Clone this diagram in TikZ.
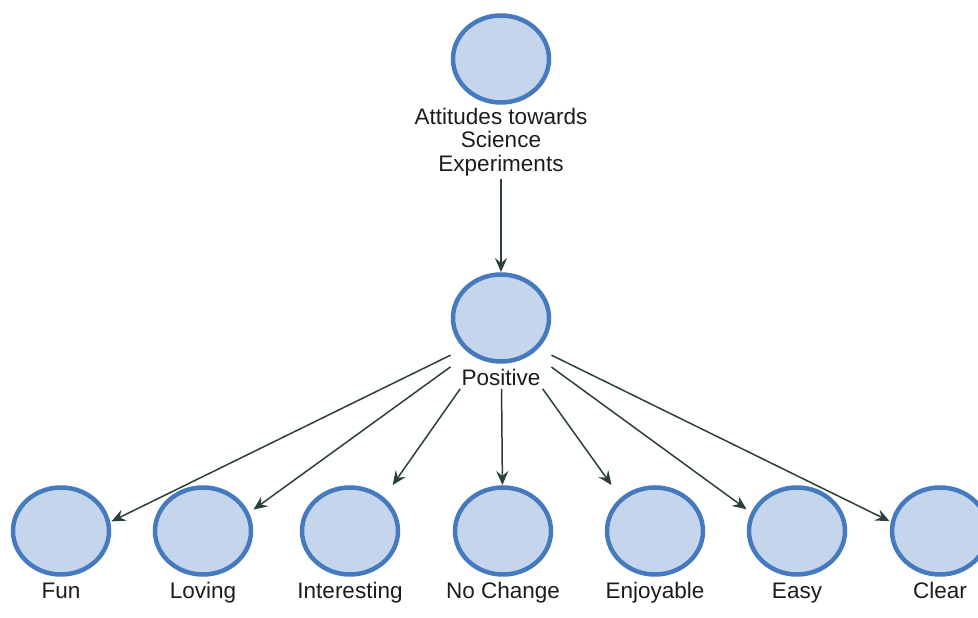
\documentclass[tikz,border=0pt]{standalone}
\usepackage{fontspec}
\setmainfont{Liberation Sans}
\usetikzlibrary{arrows.meta, shapes.geometric, positioning, fit}
\usepackage{xcolor}

\definecolor{ringblue}{RGB}{70,122,190}
\definecolor{discfill}{RGB}{197,214,236}
\definecolor{linkgrey}{RGB}{42,64,60}
\definecolor{captiongrey}{RGB}{28,28,28}

\tikzset{
	disc/.style={ellipse, draw=ringblue, fill=discfill, line width=4.5pt,
		minimum width=96pt, minimum height=87pt, inner sep=0pt},
	caption/.style={text=captiongrey, font=\fontsize{22.5}{23.5}\selectfont,
		align=center, inner sep=3pt},
	leafcaption/.style={caption, text height=16.5pt, text depth=5pt},
	group/.style={inner sep=0pt},
	link/.style={draw=linkgrey, line width=1.5pt,
		-{Stealth[length=14pt, width=12pt, inset=5pt]}}
}

\begin{document}
\begin{tikzpicture}[x=1pt, y=1pt]
	\useasboundingbox (0,0) rectangle (978,618);
	\node [disc] (attitudes) at (501,559) {};
	\node [caption, below=0pt of attitudes] (attitudeslbl) {Attitudes towards\\Science\\Experiments};
	\node [disc] (positive) at (501,300) {};
	\node [caption, below=2pt of positive] (positivelbl) {Positive};
	\node [disc] (fun) at (61,87) {};
	\node [leafcaption, below=2pt of fun] (funlbl) {Fun};
	\node [disc] (loving) at (203,87) {};
	\node [leafcaption, below=2pt of loving] (lovinglbl) {Loving};
	\node [disc] (interesting) at (350,87) {};
	\node [leafcaption, below=2pt of interesting] (interestinglbl) {Interesting};
	\node [disc] (nochange) at (503,87) {};
	\node [leafcaption, below=2pt of nochange] (nochangelbl) {No Change};
	\node [disc] (enjoyable) at (655,87) {};
	\node [leafcaption, below=2pt of enjoyable] (enjoyablelbl) {Enjoyable};
	\node [disc] (easy) at (797,87) {};
	\node [leafcaption, below=2pt of easy] (easylbl) {Easy};
	\node [disc] (clear) at (940,87) {};
	\node [leafcaption, below=2pt of clear] (clearlbl) {Clear};
	% boxes round each disc and its caption, for the links
	\node [group, fit=(attitudes)(attitudeslbl)] (attitudesgrp) {};
	\node [group, fit=(positive)(positivelbl)] (positivegrp) {};
	\node [group, fit=(fun)(funlbl)] (fungrp) {};
	\node [group, fit=(loving)(lovinglbl)] (lovinggrp) {};
	\node [group, fit=(interesting)(interestinglbl)] (interestinggrp) {};
	\node [group, fit=(nochange)(nochangelbl)] (nochangegrp) {};
	\node [group, fit=(enjoyable)(enjoyablelbl)] (enjoyablegrp) {};
	\node [group, fit=(easy)(easylbl)] (easygrp) {};
	\node [group, fit=(clear)(clearlbl)] (cleargrp) {};
	\draw [link] (attitudesgrp) -- (positivegrp);
	\draw [link] (positivegrp) -- (fungrp);
	\draw [link] (positivegrp) -- (lovinggrp);
	\draw [link] (positivegrp) -- (interestinggrp);
	\draw [link] (positivegrp) -- (nochangegrp);
	\draw [link] (positivegrp) -- (enjoyablegrp);
	\draw [link] (positivegrp) -- (easygrp);
	\draw [link] (positivegrp) -- (cleargrp);
\end{tikzpicture}
\end{document}
